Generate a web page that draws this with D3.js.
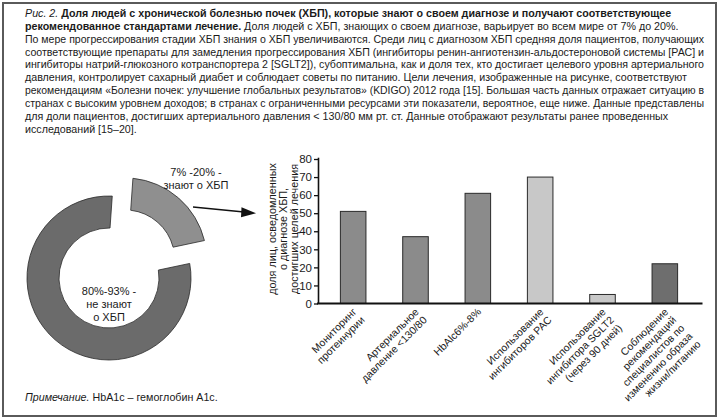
<!DOCTYPE html>
<html><head><meta charset="utf-8">
<script src="https://cdn.jsdelivr.net/npm/d3@7"></script>
<style>
body{margin:0;background:#fff}
svg{display:block}
text{font-family:"Liberation Sans",Arial,Helvetica,sans-serif;fill:#1a1a1a}
</style>
</head><body>
<svg id="c" width="720" height="419"></svg>
<script>
// ---------- data ----------
const categories = ["mon", "bp", "hba1c", "ras", "sglt2", "life"];
const categoryLabels = [
  ["Мониторинг", "протеинурии"],
  ["Артериальное", "давление <130/80"],
  ["HbAlc6%-8%"],
  ["Использование", "ингибиторов РАС"],
  ["Использование", "ингибитора SGLT2", "(через 90 дней)"],
  ["Соблюдение", "рекомендаций", "специалистов по", "изменению образа", "жизни/питанию"]
];
const values = [51, 37, 61, 70, 5, 22];
const barColors = ["#8b8b8b", "#8b8b8b", "#8b8b8b", "#c8c8c8", "#c8c8c8", "#6e6e6e"];
const yTicks = [0, 10, 20, 30, 40, 50, 60, 70, 80];
const yTitleLines = ["доля лиц, осведомленных", "о диагнозе ХБП,", "достигших целей лечения"];

const donutShares = [20, 80];
const donutColors = ["#8f8f8f", "#6b6b6b"];
const donutLabelSmall = ["7% -20% -", "знают о ХБП"];
const donutLabelBig = ["80%-93% -", "не знают", "о ХБП"];

const captionLines = [
  [["Рис. 2. ", "i"], ["Доля людей с хронической болезнью почек (ХБП), которые знают о своем диагнозе и получают соответствующее", "b"]],
  [["рекомендованное стандартами лечение.", "b"], [" Доля людей с ХБП, знающих о своем диагнозе, варьирует во всем мире от 7% до 20%.", "r"]],
  [["По мере прогрессирования стадии ХБП знания о ХБП увеличиваются. Среди лиц с диагнозом ХБП средняя доля пациентов, получающих", "r"]],
  [["соответствующие препараты для замедления прогрессирования ХБП (ингибиторы ренин-ангиотензин-альдостероновой системы [РАС] и", "r"]],
  [["ингибиторы натрий-глюкозного котранспортера 2 [SGLT2]), субоптимальна, как и доля тех, кто достигает целевого уровня артериального", "r"]],
  [["давления, контролирует сахарный диабет и соблюдает советы по питанию. Цели лечения, изображенные на рисунке, соответствуют", "r"]],
  [["рекомендациям «Болезни почек: улучшение глобальных результатов» (KDIGO) 2012 года [15]. Большая часть данных отражает ситуацию в", "r"]],
  [["странах с высоким уровнем доходов; в странах с ограниченными ресурсами эти показатели, вероятное, еще ниже. Данные представлены", "r"]],
  [["для доли пациентов, достигших артериального давления < 130/80 мм рт. ст. Данные отображают результаты ранее проведенных", "r"]],
  [["исследований [15–20].", "r"]]
];
const noteParts = [["Примечание.", "i"], [" HbA1c – гемоглобин A1c.", "r"]];

// ---------- drawing ----------
const svg = d3.select("#c");
svg.append("rect").attr("x", 0).attr("y", 0).attr("width", 720).attr("height", 419).attr("fill", "#fff");
svg.append("rect").attr("x", 3).attr("y", 3).attr("width", 713).attr("height", 413)
  .attr("fill", "none").attr("stroke", "#5a5a5a").attr("stroke-width", 2);

function styleSpan(sel, kind) {
  if (kind === "i") sel.attr("font-style", "italic");
  if (kind === "b") sel.attr("font-weight", "bold");
}

// caption
const cap = svg.append("g").attr("font-size", 10.7);
captionLines.forEach((parts, i) => {
  const t = cap.append("text").attr("x", 25).attr("y", 17 + i * 12.85);
  parts.forEach(p => {
    const s = t.append("tspan").text(p[0]);
    styleSpan(s, p[1]);
  });
  // keep lines inside the frame
  const w = t.node().getComputedTextLength();
  if (w > 679) t.attr("textLength", 679).attr("lengthAdjust", "spacingAndGlyphs");
});
const note = svg.append("text").attr("x", 25).attr("y", 401).attr("font-size", 10.7);
noteParts.forEach(p => styleSpan(note.append("tspan").text(p[0]), p[1]));

// donut
const cx = 109, cy = 278, R = 82, r = 50;
const deg = Math.PI / 180;
const pie = d3.pie().sort(null).startAngle(4 * deg).endAngle(364 * deg).padAngle(0.06);
const arcs = pie(donutShares);
const arc = d3.arc().innerRadius(r).outerRadius(R).padRadius(R);
const dg = svg.append("g").attr("transform", `translate(${cx},${cy})`);
dg.selectAll("path").data(arcs).join("path")
  .attr("d", arc)
  .attr("fill", (d, i) => donutColors[i])
  .attr("stroke", "#2a2a2a").attr("stroke-width", 0.8)
  .attr("transform", (d, i) => {
    if (i !== 0) return null;
    const m = (d.startAngle + d.endAngle) / 2, off = 24;
    return `translate(${off * Math.sin(m)},${-off * Math.cos(m)})`;
  });
const bl = svg.append("g").attr("font-size", 11).attr("text-anchor", "middle");
donutLabelBig.forEach((s, i) => bl.append("text").attr("x", cx).attr("y", 295 + i * 12.8).text(s));
donutLabelSmall.forEach((s, i) => bl.append("text").attr("x", 196).attr("y", 176 + i * 12.8).text(s));

// arrow
svg.append("line").attr("x1", 193).attr("y1", 207).attr("x2", 244).attr("y2", 212)
  .attr("stroke", "#111").attr("stroke-width", 1.6);
svg.append("path").attr("d", "M256,213.2 L241.5,207.2 L241,217.2 Z").attr("fill", "#111");

// bar chart
const x = d3.scaleBand().domain(categories).range([322, 696]).paddingInner(0.59).paddingOuter(0.295);
const y = d3.scaleLinear().domain([0, 81]).range([303.5, 157.2]);

const bars = svg.append("g");
bars.selectAll("rect").data(values).join("rect")
  .attr("x", (d, i) => x(categories[i]))
  .attr("y", d => y(d))
  .attr("width", x.bandwidth())
  .attr("height", d => y(0) - y(d))
  .attr("fill", (d, i) => barColors[i])
  .attr("stroke", "#2a2a2a").attr("stroke-width", 1);

const yAxis = svg.append("g").attr("transform", "translate(318,0)")
  .call(d3.axisLeft(y).tickValues(yTicks).tickSize(4).tickSizeOuter(0).tickPadding(2));
yAxis.selectAll("text").attr("font-size", 11.5).attr("font-family", "Liberation Sans, Arial, sans-serif").attr("fill", "#1a1a1a");
yAxis.selectAll("line").attr("stroke", "#111").attr("stroke-width", 1.3);
yAxis.select(".domain").attr("stroke", "#111").attr("stroke-width", 1.6);

svg.append("line").attr("x1", 317).attr("x2", 702.5).attr("y1", y(0)).attr("y2", y(0))
  .attr("stroke", "#111").attr("stroke-width", 1.8);

// y title
const yt = svg.append("text").attr("transform", "translate(275.5,229) rotate(-90)")
  .attr("text-anchor", "middle").attr("font-size", 10.8);
yTitleLines.forEach((s, i) => yt.append("tspan").attr("x", 0).attr("y", i * 11.4).text(s));

// category labels
const lg = svg.append("g").attr("font-size", 10.5);
categories.forEach((c, i) => {
  const g = lg.append("g")
    .attr("transform", `translate(${x(c) + x.bandwidth() / 2 + 4},${y(0) + 9}) rotate(-45)`);
  categoryLabels[i].forEach((s, k) => {
    g.append("text").attr("x", 0).attr("y", k * 11.5).attr("text-anchor", "end").text(s);
  });
});
</script>
</body></html>
